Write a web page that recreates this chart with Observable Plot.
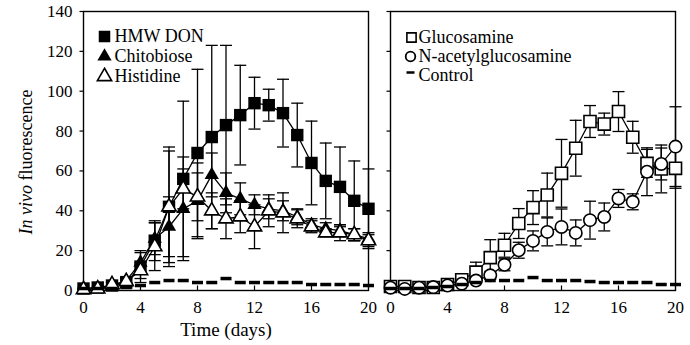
<!DOCTYPE html>
<html>
<head>
<meta charset="utf-8">
<script src="https://cdn.jsdelivr.net/npm/d3@7"></script>
<script src="https://cdn.jsdelivr.net/npm/@observablehq/plot@0.6"></script>
<style>
  html, body { margin: 0; padding: 0; background: #fff; }
  #chart { width: 690px; height: 345px; }
  #chart svg, #chart svg text { font-family: "Liberation Serif", "Times New Roman", serif; }
</style>
</head>
<body>
<div id="chart"></div>
<script>
// ---- data ----
const days = [0,1,2,3,4,5,6,7,8,9,10,11,12,13,14,15,16,17,18,19,20];
const xTicks = [0,4,8,12,16,20];
const yTicks = [0,20,40,60,80,100,120,140];

// left panel
const hmwDon     = [1,1.5,2.5,4,12,25,42,56,69,77,83,88,94,93,89,78,64,55,52,45,41];
const hmwDonErr  = [0.5,0.5,1,2,8,10,30,39,42,46,40,25,13,8,17,16,21,19,20,20,20];
const chitobiose    = [0.5,1,2.5,5,14,26,32,41,45,58,49,46,43,41,40,37,33,31,30,28,26];
const chitobioseErr = [0.5,0.5,1,2,5,8,15,26,19,11,10,8,5,5,5,4,3,3,3,3,3];
const histidine    = [0.5,0.8,3,4.5,10,22,42,51,47,40,36,37,32,40,39,36,32,29,29,28,25];
const histidineErr = [0.5,0.5,1,2,4,12,28,10,12,9,10,8,11,8,10,4.5,3,2,4,3,3];
const controlLeft  = [1,1,1,1.5,2.5,4,5,5,4,4,6,4,4,4,4,4,3,3,3,3,2.5];

// right panel
const glucosamine    = [2,2,1.5,1.5,3,5.4,9.2,16.5,22.7,33.6,41.6,47.9,58.8,71.4,84.8,83.5,89.8,76.9,63.8,61,61.3];
const glucosamineErr = [0.5,0.5,0.5,0.5,1,2,5,9,6,7.5,8.5,11,17,14,8,5.5,10,8,7,12,10];
const nag    = [1.4,0.8,1.4,1.7,2.5,3.4,5,7.6,12.9,20.2,24.9,29.4,31.9,28.9,35.3,36.9,46.2,44.5,59.6,63.5,72.2];
const nagErr = [0.5,0.5,0.5,0.5,0.5,1,1,2,3,4,5,7,9,6.5,9.5,7,4.5,4,12,8,20];
const controlRight = [1,1,1,1.5,2,3,4,5,5,5,6.5,5,5,5,4.5,4,4,4,4,3,3];

const panels = ["L", "R"];
const legendLeft  = ["HMW DON", "Chitobiose", "Histidine"];
const legendRight = ["Glucosamine", "N-acetylglucosamine", "Control"];

// ---- build tables ----
function series(panel, name, vals, errs) {
  return days.map((d, i) => ({panel, name, day: d, v: vals[i], e: errs ? errs[i] : 0}));
}
const sHmw   = series("L", "HMW DON", hmwDon, hmwDonErr);
const sChito = series("L", "Chitobiose", chitobiose, chitobioseErr);
const sHist  = series("L", "Histidine", histidine, histidineErr);
const sCtlL  = series("L", "Control", controlLeft);
const sGluc  = series("R", "Glucosamine", glucosamine, glucosamineErr);
const sNag   = series("R", "N-acetylglucosamine", nag, nagErr);
const sCtlR  = series("R", "Control", controlRight);

const withErr = [...sHmw, ...sChito, ...sHist, ...sGluc, ...sNag];

// ---- custom symbols ----
const capSym  = {draw(c) { c.moveTo(-6, 0); c.lineTo(6, 0); }};
const dashSym = {draw(c) { c.moveTo(-5.5, 0); c.lineTo(5.5, 0); }};
const legDash = {draw(c) { c.moveTo(-4, 0); c.lineTo(4, 0); }};
const yTickSym = {draw(c) { c.moveTo(0, 0); c.lineTo(-4, 0); }};
const xTickSym = {draw(c) { c.moveTo(0, 0); c.lineTo(0, -5); }};

const K = "black";
const LW = 1.3;
const txt = {fx: "panel", frameAnchor: "top-left", textAnchor: "start", lineAnchor: "middle", fontSize: 18, fill: K};

const marks = [
  Plot.frame({stroke: K, strokeWidth: 1.4}),
  // ticks (both panels)
  Plot.dot(yTicks, {x: () => 0, y: d => d, symbol: yTickSym, stroke: K, strokeWidth: 1.2}),
  Plot.dot(xTicks.slice(1, -1), {x: d => d, y: () => 0, symbol: xTickSym, stroke: K, strokeWidth: 1.2}),
  // error bars
  Plot.ruleX(withErr, {fx: "panel", x: "day", y1: d => Math.max(0, d.v - d.e), y2: d => d.v + d.e, stroke: K, strokeWidth: LW}),
  Plot.dot(withErr, {fx: "panel", x: "day", y: d => d.v + d.e, symbol: capSym, stroke: K, strokeWidth: LW}),
  Plot.dot(withErr.filter(d => d.v - d.e > 0), {fx: "panel", x: "day", y: d => d.v - d.e, symbol: capSym, stroke: K, strokeWidth: LW}),
  // lines
  Plot.line(withErr, {fx: "panel", x: "day", y: "v", z: "name", stroke: K, strokeWidth: LW}),
  // markers
  Plot.dot(sHmw,   {fx: "panel", x: "day", y: "v", symbol: "square", r: 7, fill: K}),
  Plot.dot(sChito, {fx: "panel", x: "day", y: "v", symbol: "triangle", r: 5.3, fill: K}),
  Plot.dot(sHist,  {fx: "panel", x: "day", y: "v", symbol: "triangle", r: 5.3, fill: "white", stroke: K, strokeWidth: 1.6}),
  Plot.dot(sGluc,  {fx: "panel", x: "day", y: "v", symbol: "square", r: 6.8, fill: "white", stroke: K, strokeWidth: 1.6}),
  Plot.dot(sNag,   {fx: "panel", x: "day", y: "v", symbol: "circle", r: 6.2, fill: "white", stroke: K, strokeWidth: 1.6}),
  Plot.dot([...sCtlL, ...sCtlR], {fx: "panel", x: "day", y: "v", symbol: dashSym, stroke: K, strokeWidth: 3.5}),
  // legends
  Plot.dot([{panel: "L"}], {fx: "panel", frameAnchor: "top-left", dx: 21, dy: 25, symbol: "square", r: 6.5, fill: K}),
  Plot.dot([{panel: "L"}], {fx: "panel", frameAnchor: "top-left", dx: 21, dy: 45, symbol: "triangle", r: 5.3, fill: K}),
  Plot.dot([{panel: "L"}], {fx: "panel", frameAnchor: "top-left", dx: 21, dy: 65, symbol: "triangle", r: 5.3, fill: "white", stroke: K, strokeWidth: 1.6}),
  Plot.dot([{panel: "R"}], {fx: "panel", frameAnchor: "top-left", dx: 21, dy: 26, symbol: "square", r: 5.2, fill: "white", stroke: K, strokeWidth: 1.6}),
  Plot.dot([{panel: "R"}], {fx: "panel", frameAnchor: "top-left", dx: 20, dy: 45, symbol: "circle", r: 4.8, fill: "white", stroke: K, strokeWidth: 1.8}),
  Plot.dot([{panel: "R"}], {fx: "panel", frameAnchor: "top-left", dx: 20, dy: 61, symbol: legDash, stroke: K, strokeWidth: 2.5}),
  ...legendLeft.map((t, i) => Plot.text([{panel: "L"}], {...txt, dx: 31, dy: 25 + i * 20, text: () => t})),
  ...legendRight.map((t, i) => Plot.text([{panel: "R"}], {...txt, dx: 28, dy: 26 + i * 19, text: () => t})),
  // axis titles
  Plot.text([{panel: "L"}], {fx: "panel", frameAnchor: "bottom", lineAnchor: "middle", textAnchor: "middle", dy: 39, text: () => "Time (days)", fontSize: 19, fill: K}),
  Plot.text([{panel: "L"}], {fx: "panel", frameAnchor: "left", textAnchor: "middle", lineAnchor: "middle", dx: -57, dy: 11, rotate: -90, text: () => "In vivo fluorescence", fontSize: 18, fill: K})
];

const chart = Plot.plot({
  width: 690,
  height: 345,
  marginLeft: 82,
  marginRight: 14,
  marginTop: 11,
  marginBottom: 55,
  style: {fontFamily: "'Liberation Serif', 'Times New Roman', serif", fontSize: "17px", background: "white", color: "black"},
  fx: {domain: panels, axis: null, paddingInner: 0.0714, paddingOuter: 0},
  x: {domain: [0, 20], ticks: xTicks, tickSize: 0, tickPadding: 10, label: null},
  y: {domain: [0, 140], ticks: yTicks, tickSize: 0, tickPadding: 11, label: null},
  marks
});
document.getElementById("chart").appendChild(chart);

// italicise "In vivo" in the y-axis title
d3.select(chart).selectAll("text").each(function() {
  if (this.textContent === "In vivo fluorescence") {
    const el = d3.select(this);
    el.text(null);
    el.append("tspan").attr("font-style", "italic").text("In vivo");
    el.append("tspan").text(" fluorescence");
  }
});
</script>
</body>
</html>
